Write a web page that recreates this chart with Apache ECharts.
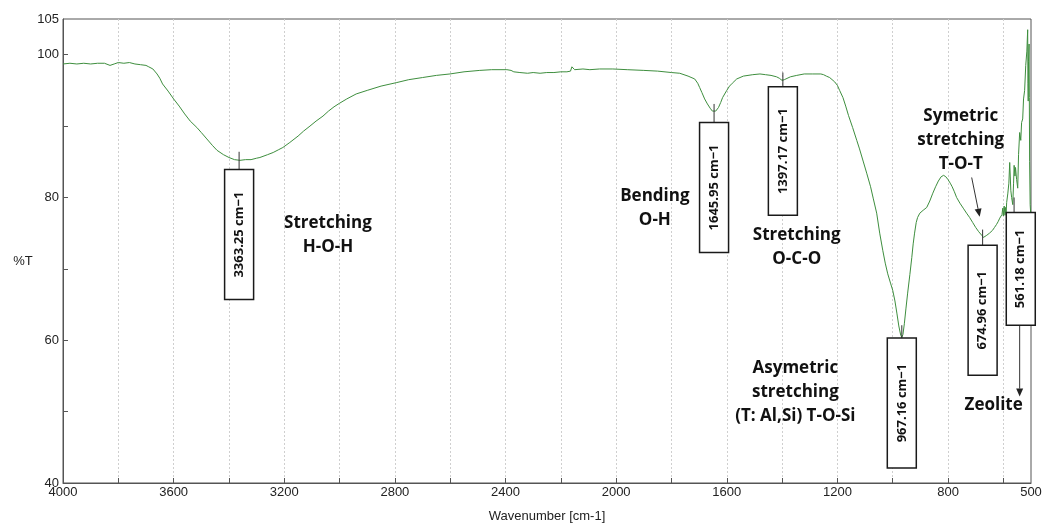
<!DOCTYPE html>
<html>
<head>
<meta charset="utf-8">
<script src="https://cdn.jsdelivr.net/npm/echarts@6/dist/echarts.min.js"></script>
<style>
html,body{margin:0;padding:0;background:#fff;}
#chart{width:1042px;height:523px;}
</style>
</head>
<body>
<div id="chart"></div>
<script>
// ---- DATA ----
// FTIR spectrum: [wavenumber (cm-1), %T]
const spectrumPoints = [
[4000,98.7],[3975,98.8],[3950,98.7],[3925,98.8],[3900,98.7],[3875,98.8],[3850,98.8],[3830,98.5],
[3815,98.7],[3800,98.9],[3780,98.8],[3760,98.9],[3740,98.7],[3720,98.6],[3700,98.5],[3690,98.3],
[3675,98.0],[3660,97.3],[3650,96.7],[3640,95.9],[3620,94.9],[3600,93.8],[3580,92.8],[3560,91.7],
[3540,90.7],[3516,89.8],[3500,89.1],[3480,88.2],[3460,87.3],[3443,86.6],[3420,86.0],[3400,85.6],
[3380,85.3],[3360,85.2],[3340,85.3],[3320,85.3],[3300,85.5],[3288,85.6],[3260,86.0],[3240,86.3],
[3220,86.7],[3205,87.0],[3180,87.7],[3150,88.6],[3130,89.3],[3107,90.0],[3085,90.7],[3060,91.4],
[3040,92.1],[3020,92.7],[3000,93.2],[2974,93.8],[2940,94.5],[2900,95.0],[2850,95.6],[2793,96.1],
[2750,96.5],[2700,96.8],[2650,97.1],[2601,97.3],[2550,97.6],[2493,97.8],[2450,97.9],[2395,97.9],
[2380,97.8],[2370,97.6],[2348,97.5],[2320,97.4],[2300,97.5],[2275,97.4],[2251,97.5],[2225,97.5],
[2200,97.6],[2178,97.6],[2165,97.7],[2160,98.3],[2155,98.1],[2150,97.9],[2120,98.0],[2095,97.9],
[2060,98.0],[2012,98.0],[1960,97.9],[1900,97.8],[1850,97.7],[1800,97.5],[1770,97.4],[1740,97.0],
[1716,96.6],[1705,96.0],[1698,95.4],[1690,94.7],[1680,93.8],[1670,93.1],[1660,92.5],[1652,92.1],
[1647,91.9],[1640,92.1],[1630,92.6],[1622,93.3],[1615,94.0],[1600,95.0],[1590,95.6],[1580,96.0],
[1564,96.6],[1540,97.0],[1506,97.2],[1480,97.3],[1460,97.2],[1440,97.1],[1420,96.9],[1410,96.7],
[1405,96.6],[1400,96.4],[1397,96.3],[1392,96.5],[1385,96.7],[1370,96.9],[1347,97.1],[1320,97.3],
[1289,97.3],[1260,97.3],[1250,97.2],[1240,97.0],[1228,96.8],[1210,96.2],[1200,95.7],[1192,95.0],
[1180,94.0],[1170,92.8],[1160,91.5],[1145,89.8],[1130,88.0],[1120,86.8],[1107,85.1],[1094,83.4],
[1080,81.5],[1070,79.8],[1058,77.8],[1047,75.0],[1036,72.6],[1027,70.8],[1018,69.3],[1008,68.0],
[1000,67.0],[992,65.5],[985,63.8],[978,62.0],[971,60.7],[967,60.4],[963,60.8],[958,62.3],
[952,64.5],[946,66.6],[938,69.2],[931,71.6],[926,73.5],[921,75.0],[915,76.5],[910,77.2],
[902,77.8],[890,78.2],[877,78.6],[866,79.5],[855,80.6],[845,81.5],[835,82.3],[825,82.9],
[816,83.1],[808,82.9],[800,82.5],[792,82.0],[785,81.5],[777,80.8],[769,80.0],[757,79.2],
[745,78.5],[733,77.8],[722,77.2],[711,76.5],[700,75.8],[689,75.2],[678,74.7],[672,74.4],
[666,74.5],[660,74.7],[650,75.0],[639,75.4],[632,75.8],[625,76.2],[619,76.6],[613,77.1],
[609,77.3],[605,77.6],[602,78.5],[600,77.4],[597,78.8],[594,77.5],[592,78.6],[590,77.8],
[588,79.3],[584,80.5],[580,82.0],[577,84.9],[575,83.0],[573,81.0],[570,80.0],[566,79.0],
[563,82.0],[561,84.5],[558,83.0],[556,84.2],[552,82.5],[548,81.3],[545,86.0],[541,89.1],
[537,88.0],[534,90.5],[530,91.0],[527,93.8],[523,95.0],[519,98.5],[515,100.5],[512,103.5],
[511,96.0],[510,93.5],[509,99.0],[507,101.5],[506,94.0],[505,85.0],[503,79.0],[500,77.0]
];

const xTickValues = [600,800,1000,1200,1400,1600,1800,2000,2200,2400,2600,2800,3000,3200,3400,3600,3800];
const xLabelValues = [500,800,1200,1600,2000,2400,2800,3200,3600,4000];
const yTickValues = [50,60,70,80,90,100];
const yLabelValues = [40,60,80,100,105];

// peak labels
const peakWavenumbers = [3363.25, 1645.95, 1397.17, 967.16, 674.96, 561.18];
const peakTexts = ['3363.25 cm\u22121','1645.95 cm\u22121','1397.17 cm\u22121','967.16 cm\u22121','674.96 cm\u22121','561.18 cm\u22121'];

// band assignment texts
const bandTexts = ['Stretching\nH-O-H','Bending\nO-H','Stretching\nO-C-O','Asymetric\nstretching\n(T: Al,Si) T-O-Si','Symetric\nstretching\nT-O-T','Zeolite'];

// ---- LAYOUT (annotation placement, in data coordinates) ----
// [tickTopT, boxTopT, boxBottomT, boxCenterWn]
const peakBoxLayout = [
  [86.4, 83.9, 65.7, 3363.25],
  [93.1, 90.5, 72.3, 1645.95],
  [97.5, 95.5, 77.5, 1397.17],
  [62.1, 60.3, 42.1, 967.16],
  [75.5, 73.3, 55.1, 674.96],
  [80.0, 77.9, 62.1, 537]
];
const bandLayout = [[3042,74.7],[1860,78.5],[1347,73.1],[1352,52.7],[754,88.0],[635,50.9]];
const arrowLayout = [[[714.5,82.8],[685.6,77.3]], [[541,62.1],[541,52.1]]];

const chart = echarts.init(document.getElementById('chart'), null, {renderer:'canvas', width:1042, height:523});

const axisFont = '"Liberation Sans", Arial, sans-serif';
const option = {
  animation: false,
  backgroundColor: '#fff',
  grid: {left: 63, right: 11, top: 19, bottom: 40, outerBoundsMode: 'none', containLabel: false,
         show: true, borderColor: '#555', borderWidth: 1, backgroundColor: 'transparent'},
  xAxis: {
    type: 'value', inverse: true, min: 500, max: 4000, interval: 100,
    name: 'Wavenumber [cm-1]', nameLocation: 'middle', nameGap: 27,
    nameTextStyle: {fontFamily: axisFont, fontSize: 13, color: '#222'},
    axisLine: {show: true, lineStyle: {color: '#555', width: 1}},
    axisTick: {show: true, inside: true, length: 5, customValues: xTickValues, lineStyle: {color: '#555'}},
    axisLabel: {customValues: xLabelValues, formatter: v => String(v), fontFamily: axisFont, fontSize: 13, color: '#222', margin: 3},
    splitLine: {show: true, lineStyle: {color: '#cfcfcf', type: [2,2], width: 1}}
  },
  yAxis: {
    type: 'value', min: 40, max: 105, interval: 5,
    axisLine: {show: true, lineStyle: {color: '#555', width: 1}},
    axisTick: {show: true, inside: true, length: 5, customValues: yTickValues, lineStyle: {color: '#555'}},
    axisLabel: {customValues: yLabelValues, formatter: v => String(v), fontFamily: axisFont, fontSize: 13, color: '#222', margin: 4},
    splitLine: {show: false}
  },
  series: [{
    type: 'line', data: spectrumPoints, showSymbol: false, symbol: 'none',
    lineStyle: {color: '#3e8e3e', width: 1}, smooth: false, z: 2
  }]
};
chart.setOption(option);

function px(w, t) { return chart.convertToPixel({gridIndex: 0}, [w, t]); }

const graphics = [];
// y axis title
graphics.push({type: 'text', x: 23, y: 261, style: {text: '%T', font: '13px ' + axisFont, fill: '#222', align: 'center', verticalAlign: 'middle'}, z: 100});

const boxW = 29;
peakWavenumbers.forEach((wn, i) => {
  const L = peakBoxLayout[i];
  const tTop = px(wn, L[0]);
  const bTop = px(wn, L[1]);
  const bBot = px(wn, L[2]);
  const cx = px(L[3], L[1])[0];
  graphics.push({type: 'line', shape: {x1: tTop[0], y1: tTop[1], x2: bTop[0], y2: bTop[1]}, style: {stroke: '#333', lineWidth: 1}, z: 100});
  graphics.push({type: 'rect', shape: {x: cx - boxW / 2, y: bTop[1], width: boxW, height: bBot[1] - bTop[1]}, style: {fill: '#fff', stroke: '#1a1a1a', lineWidth: 1.5}, z: 101});
  graphics.push({type: 'text', x: cx, y: (bTop[1] + bBot[1]) / 2, rotation: Math.PI / 2,
    style: {text: peakTexts[i], font: 'bold 13px "Open Sans", sans-serif', fill: '#111', align: 'center', verticalAlign: 'middle'}, z: 102});
});

bandTexts.forEach((txt, i) => {
  const p = px(bandLayout[i][0], bandLayout[i][1]);
  graphics.push({type: 'text', x: p[0], y: p[1],
    style: {text: txt, font: 'bold 17px "Open Sans", sans-serif', fill: '#111', align: 'center', verticalAlign: 'middle', lineHeight: 24}, z: 103});
});

arrowLayout.forEach(a => {
  const p1 = px(a[0][0], a[0][1]);
  const p2 = px(a[1][0], a[1][1]);
  const dx = p2[0] - p1[0], dy = p2[1] - p1[1];
  const len = Math.sqrt(dx * dx + dy * dy);
  const ux = dx / len, uy = dy / len;
  const hl = 8, hw = 3.5;
  const bx = p2[0] - ux * hl, by = p2[1] - uy * hl;
  graphics.push({type: 'line', shape: {x1: p1[0], y1: p1[1], x2: bx, y2: by}, style: {stroke: '#333', lineWidth: 1}, z: 100});
  graphics.push({type: 'polygon', shape: {points: [[p2[0], p2[1]], [bx - uy * hw, by + ux * hw], [bx + uy * hw, by - ux * hw]]}, style: {fill: '#222'}, z: 100});
});

chart.setOption({graphic: graphics});
</script>
</body>
</html>
